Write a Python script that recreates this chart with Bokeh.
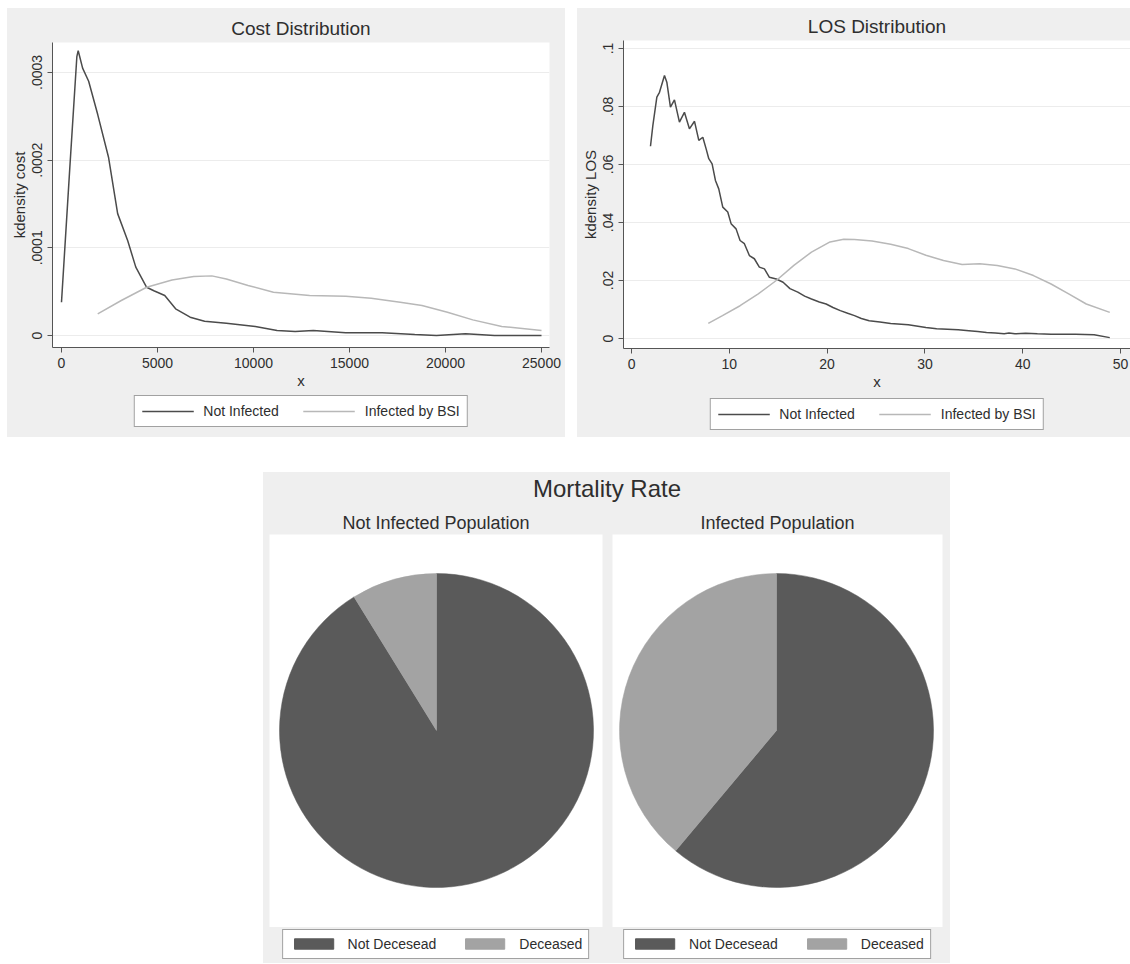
import math
from bokeh.plotting import figure
from bokeh.models import (Range1d, FixedTicker, CustomJSTickFormatter, Legend,
                          LegendItem, ColumnDataSource, Spacer)
from bokeh.layouts import row, column
from bokeh.embed import file_html
from bokeh.resources import INLINE

# ------------------------------------------------------------------ data
cost_x_not_infected = [0, 430, 800, 870, 950, 1100, 1415, 1887, 2453, 2925, 3450,
                       3870, 4435, 4812, 5378, 5944, 6700, 7454, 8586, 10095, 11228,
                       12170, 13115, 14800, 16700, 18400, 19530, 21040, 22550, 25000]
cost_y_not_infected = [0.000038, 0.00019, 0.000318, 0.000325, 0.000318, 0.000305,
                       0.00029, 0.000252, 0.000203, 0.000139, 0.000108, 0.000078,
                       0.000055, 0.000051, 0.0000456, 0.0000304, 0.0000209, 0.0000163,
                       0.000014, 0.0000103, 0.0000057, 0.0000046, 0.0000057, 0.000003,
                       0.000003, 0.0000011, 0.0, 0.0000019, 0.0, 0.0]

cost_x_bsi = [1887, 3114, 4435, 5755, 6888, 7831, 8586, 9718, 11040, 12925, 14810,
              16130, 17640, 18775, 20100, 21420, 22930, 25000]
cost_y_bsi = [0.0000247, 0.0000399, 0.000055, 0.0000634, 0.0000672, 0.000068,
              0.0000645, 0.000057, 0.0000494, 0.0000456, 0.0000448, 0.0000425,
              0.000038, 0.0000342, 0.0000266, 0.0000178, 0.0000103, 0.0000057]

los_x_not_infected = [1.94, 2.18, 2.59, 2.86, 3.37, 3.61, 3.98, 4.39, 4.90, 5.41, 5.92,
                      6.44, 6.88, 7.29, 7.63, 7.90, 8.24, 8.58, 8.92, 9.33, 9.84, 10.18,
                      10.69, 11.10, 11.54, 12.05, 12.56, 13.07, 13.59, 14.10, 14.80,
                      15.50, 16.20, 17.00, 17.70, 18.40, 19.20, 19.90, 20.60, 21.35,
                      22.10, 22.80, 23.50, 24.30, 25.40, 26.50, 28.30, 30.10, 31.20,
                      32.30, 33.40, 34.50, 35.40, 36.30, 37.20, 38.10, 38.60, 39.20,
                      40.30, 41.50, 42.90, 45.40, 47.30, 48.90]
los_y_not_infected = [0.0663, 0.0734, 0.0832, 0.0849, 0.0907, 0.0884, 0.0798, 0.0823,
                      0.0746, 0.0780, 0.0723, 0.0749, 0.0683, 0.0694, 0.0654, 0.0620,
                      0.0602, 0.0545, 0.0516, 0.0453, 0.0436, 0.0396, 0.0378, 0.0338,
                      0.0327, 0.0286, 0.0275, 0.0246, 0.0240, 0.0211, 0.0205, 0.0194,
                      0.0172, 0.0160, 0.0146, 0.0136, 0.0126, 0.0119, 0.0107, 0.0096,
                      0.0087, 0.0079, 0.0069, 0.0061, 0.0057, 0.0052, 0.0047, 0.0038,
                      0.0034, 0.0032, 0.0030, 0.0027, 0.0024, 0.0021, 0.0019, 0.0016,
                      0.0019, 0.0016, 0.0018, 0.0016, 0.0015, 0.0015, 0.0013, 0.0003]

los_x_bsi = [7.85, 9.3, 11.1, 12.96, 14.8, 16.6, 18.4, 20.3, 21.7, 22.8, 24.6, 26.5,
             28.3, 30.1, 31.9, 33.8, 35.6, 37.4, 39.2, 41.1, 42.9, 44.7, 46.5, 48.9]
los_y_bsi = [0.0052, 0.0079, 0.0113, 0.0154, 0.0200, 0.0252, 0.0298, 0.0333, 0.0342,
             0.0341, 0.0336, 0.0325, 0.0310, 0.0287, 0.0269, 0.0255, 0.0258, 0.0252,
             0.0240, 0.0217, 0.0188, 0.0154, 0.0119, 0.0090]

series_labels = ["Not Infected", "Infected by BSI"]

cost_xticks = [0, 5000, 10000, 15000, 20000, 25000]
cost_xtick_labels = ["0", "5000", "10000", "15000", "20000", "25000"]
cost_yticks = [0, 0.0001, 0.0002, 0.0003]
cost_ytick_labels = ["0", ".0001", ".0002", ".0003"]

los_xticks = [0, 10, 20, 30, 40, 50]
los_xtick_labels = ["0", "10", "20", "30", "40", "50"]
los_yticks = [0, 0.02, 0.04, 0.06, 0.08, 0.1]
los_ytick_labels = ["0", ".02", ".04", ".06", ".08", ".1"]

mortality_categories = ["Not Decesead", "Deceased"]
not_infected_share = [91.2, 8.8]
infected_share = [61.1, 38.9]

# ------------------------------------------------------------------ style
FONT = "Liberation Sans"
PANEL = "#efefef"
TEXT = "#2e2e2e"
AXIS = "#555555"
DARK_LINE = "#4b4b4b"
LIGHT_LINE = "#b8b8b8"
DARK_PIE = "#5a5a5a"
LIGHT_PIE = "#a3a3a3"
NAN = float("nan")


def tick_formatter(vals, labs):
    return CustomJSTickFormatter(args=dict(vals=vals, labs=labs), code="""
        for (let i = 0; i < vals.length; i++) {
            if (Math.abs(vals[i] - tick) <= Math.abs(vals[vals.length-1]) * 1e-6) return labs[i];
        }
        return "";
    """)


def legend_figure(w, h, borders, kind, colors, labels, glyph_w, glyph_h, padding):
    """A strip that only carries the legend (kept outside the plot frame).
    Its key renderers hold no visible data (NaN), they only provide the key glyphs."""
    l, r, t, b = borders
    p = figure(width=w, height=h, x_range=Range1d(0, 1), y_range=Range1d(0, 1),
               toolbar_location=None, output_backend="svg",
               x_axis_type=None, y_axis_type=None,
               min_border_left=l, min_border_right=r, min_border_top=t,
               min_border_bottom=b)
    p.background_fill_color = PANEL
    p.border_fill_color = PANEL
    p.outline_line_color = None
    p.grid.visible = False
    items = []
    for c, lab in zip(colors, labels):
        if kind == "line":
            rr = p.line(x=[NAN, NAN], y=[NAN, NAN], line_color=c, line_width=1.5)
        else:
            rr = p.rect(x=[NAN], y=[NAN], width=1, height=1, fill_color=c, line_color=c)
        items.append(LegendItem(label=lab, renderers=[rr]))
    lg = Legend(items=items, orientation="horizontal", location="center",
                glyph_width=glyph_w, glyph_height=glyph_h, label_height=glyph_h,
                label_standoff=10, spacing=24, padding=padding, margin=0,
                border_line_color="#444444", border_line_width=1,
                background_fill_color="white", background_fill_alpha=1,
                label_text_font=FONT, label_text_font_size="14px",
                label_text_color=TEXT)
    p.add_layout(lg)
    return p


def kd_figure(title, w, h, xr, yr, borders):
    l, r, t, b = borders
    p = figure(width=w, height=h, x_range=Range1d(*xr), y_range=Range1d(*yr),
               toolbar_location=None, output_backend="svg", title=title,
               min_border_left=l, min_border_right=r, min_border_top=t,
               min_border_bottom=b)
    p.background_fill_color = "white"
    p.border_fill_color = PANEL
    p.outline_line_color = None
    p.title.text_font = FONT
    p.title.text_font_size = "19px"
    p.title.text_font_style = "normal"
    p.title.text_color = TEXT
    p.title.align = "center"
    p.title.standoff = 8
    p.xgrid.visible = False
    p.ygrid.grid_line_color = "#ececec"
    p.ygrid.grid_line_width = 1
    for ax in (p.xaxis[0], p.yaxis[0]):
        ax.axis_line_color = AXIS
        ax.major_tick_line_color = AXIS
        ax.major_tick_in = 0
        ax.major_tick_out = 5
        ax.minor_tick_line_color = None
        ax.major_label_text_font = FONT
        ax.major_label_text_font_size = "14px"
        ax.major_label_text_color = TEXT
        ax.axis_label_text_font = FONT
        ax.axis_label_text_font_size = "15px"
        ax.axis_label_text_font_style = "normal"
        ax.axis_label_text_color = TEXT
    p.yaxis[0].major_label_orientation = "vertical"
    p.yaxis[0].major_label_standoff = 5
    p.yaxis[0].axis_label_standoff = 2
    p.xaxis[0].major_label_standoff = 5
    p.xaxis[0].axis_label_standoff = 1
    return p


# ---- Cost distribution
p_cost = kd_figure("Cost Distribution", 558, 384, (-468, 25416), (-1.37e-5, 3.342e-4),
                   (44, 16, 34, 45))
p_cost.line(cost_x_not_infected, cost_y_not_infected, line_color=DARK_LINE, line_width=1.5)
p_cost.line(cost_x_bsi, cost_y_bsi, line_color=LIGHT_LINE, line_width=1.5)
p_cost.xaxis.ticker = FixedTicker(ticks=cost_xticks)
p_cost.xaxis.formatter = tick_formatter(cost_xticks, cost_xtick_labels)
p_cost.yaxis.ticker = FixedTicker(ticks=cost_yticks)
p_cost.yaxis.formatter = tick_formatter(cost_yticks, cost_ytick_labels)
p_cost.ygrid.ticker = FixedTicker(ticks=cost_yticks)
p_cost.xaxis.axis_label = "x"
p_cost.yaxis.axis_label = "kdensity cost"
leg_cost = legend_figure(558, 45, (44, 16, 0, 7), "line", [DARK_LINE, LIGHT_LINE],
                         series_labels, 52, 14, 7)

# ---- LOS distribution
p_los = kd_figure("LOS Distribution", 553, 384, (-0.82, 51.02), (-0.00345, 0.10276),
                  (46, 0, 32, 44))
p_los.line(los_x_not_infected, los_y_not_infected, line_color=DARK_LINE, line_width=1.5)
p_los.line(los_x_bsi, los_y_bsi, line_color=LIGHT_LINE, line_width=1.5)
p_los.xaxis.ticker = FixedTicker(ticks=los_xticks)
p_los.xaxis.formatter = tick_formatter(los_xticks, los_xtick_labels)
p_los.yaxis.ticker = FixedTicker(ticks=los_yticks)
p_los.yaxis.formatter = tick_formatter(los_yticks, los_ytick_labels)
p_los.ygrid.ticker = FixedTicker(ticks=los_yticks)
p_los.xaxis.axis_label = "x"
p_los.yaxis.axis_label = "kdensity LOS"
leg_los = legend_figure(553, 45, (46, 0, 0, 1), "line", [DARK_LINE, LIGHT_LINE],
                        series_labels, 52, 14, 7)

# ---- Mortality title strip
p_mt = figure(width=687, height=36, toolbar_location=None, output_backend="svg",
              x_axis_type=None, y_axis_type=None, title="Mortality Rate",
              min_border=0)
p_mt.background_fill_color = PANEL
p_mt.border_fill_color = PANEL
p_mt.outline_line_color = None
p_mt.grid.visible = False
p_mt.title.text_font = FONT
p_mt.title.text_font_size = "24px"
p_mt.title.text_font_style = "normal"
p_mt.title.text_color = TEXT
p_mt.title.align = "center"
p_mt.title.standoff = 0


def pie_figure(title, w, h, borders, frame_w, frame_h, cx_px, cy_px, r_px, shares):
    l, r, t, b = borders
    xr = (-cx_px / r_px, (frame_w - cx_px) / r_px)
    yr = (-(frame_h - cy_px) / r_px, cy_px / r_px)
    p = figure(width=w, height=h, x_range=Range1d(*xr), y_range=Range1d(*yr),
               toolbar_location=None, output_backend="svg", title=title,
               x_axis_type=None, y_axis_type=None,
               min_border_left=l, min_border_right=r, min_border_top=t,
               min_border_bottom=b)
    p.background_fill_color = "white"
    p.border_fill_color = PANEL
    p.outline_line_color = None
    p.grid.visible = False
    p.title.text_font = FONT
    p.title.text_font_size = "18px"
    p.title.text_font_style = "normal"
    p.title.text_color = TEXT
    p.title.align = "center"
    p.title.standoff = 4
    total = sum(shares)
    starts, ends = [], []
    a = math.pi / 2
    for v in shares:
        b_ = a - 2 * math.pi * v / total
        starts.append(b_)
        ends.append(a)
        a = b_
    src = ColumnDataSource(dict(start=starts, end=ends, color=[DARK_PIE, LIGHT_PIE],
                                label=mortality_categories))
    p.wedge(x=0, y=0, radius=1, start_angle="start", end_angle="end",
            fill_color="color", line_color="color", line_width=0.5, source=src)
    return p


p_pie1 = pie_figure("Not Infected Population", 344, 419, (6, 5, 26, 0),
                    333, 393, 167, 196, 157, not_infected_share)
p_pie2 = pie_figure("Infected Population", 343, 419, (5, 8, 26, 0),
                    330, 393, 164, 196, 157, infected_share)
leg_pie1 = legend_figure(344, 36, (6, 5, 0, 3), "rect", [DARK_PIE, LIGHT_PIE],
                         mortality_categories, 49, 13, 6)
leg_pie2 = legend_figure(343, 36, (5, 8, 0, 3), "rect", [DARK_PIE, LIGHT_PIE],
                         mortality_categories, 49, 13, 6)

bg = {"background-color": PANEL}
mortality_block = column(
    p_mt,
    row(column(p_pie1, leg_pie1, styles=bg), column(p_pie2, leg_pie2, styles=bg),
        styles=bg),
    styles=bg,
)

layout = column(
    Spacer(width=10, height=8),
    row(Spacer(width=7, height=429), column(p_cost, leg_cost, styles=bg),
        Spacer(width=12, height=429), column(p_los, leg_los, styles=bg)),
    Spacer(width=10, height=35),
    row(Spacer(width=263, height=491), mortality_block),
)

open("out.html", "w").write(file_html(layout, INLINE))
